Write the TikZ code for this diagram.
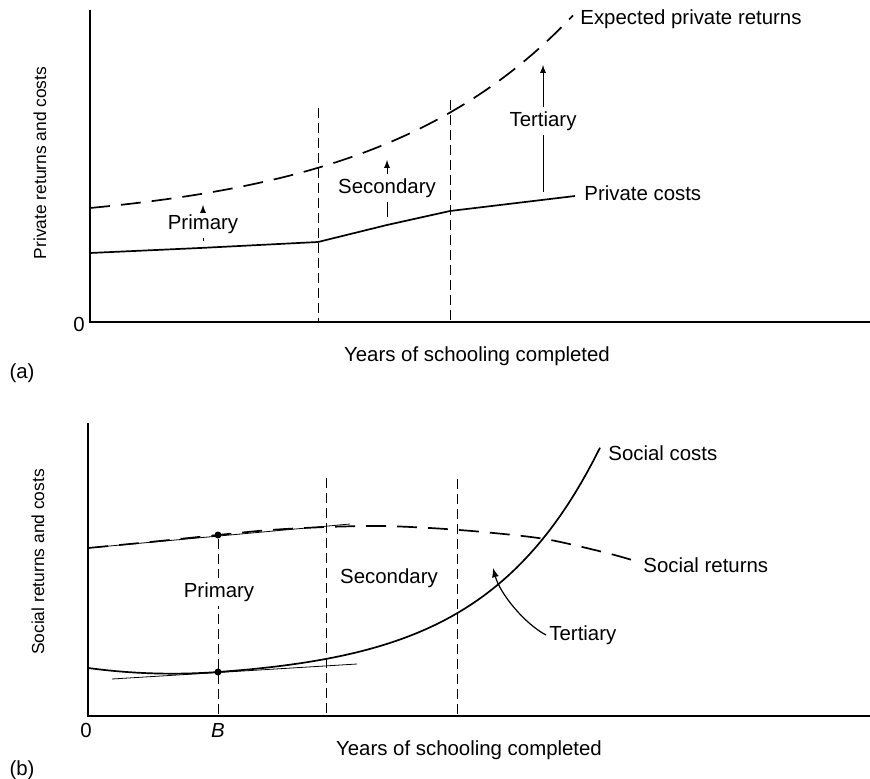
\documentclass[tikz,border=0pt]{standalone}
\usepackage{fontspec}
\setmainfont{Liberation Sans}
\usetikzlibrary{arrows}

\begin{document}
\begin{tikzpicture}[x=0.5pt,y=-0.5pt,
    txt/.style={font=\fontsize{10.2}{12}\selectfont,inner sep=1.5pt},
    ytxt/.style={font=\fontsize{8.7}{10}\selectfont,rotate=90,inner sep=0pt},
    axisline/.style={line width=0.65pt},
    guide/.style={line width=0.5pt,dash pattern=on 5pt off 2.5pt},
    dashcurve/.style={line width=0.85pt,dash pattern=on 10pt off 5.5pt},
    solidcurve/.style={line width=0.85pt},
    thinline/.style={line width=0.4pt},
    gap/.style={txt,fill=white,inner sep=2pt},
    dot/.style={circle,fill=black,inner sep=0pt,minimum size=3.5pt}]
\useasboundingbox (0,0) rectangle (870,779);

%% (a) private returns and costs
\coordinate (Oa) at (90,322);
\draw[axisline] (90,10) -- (Oa) -- (870,322);
\node[txt] (zeroA) at (79,324) {0};
\node[ytxt] (ylabA) at (40,163) {Private returns and costs};
\node[txt] (xlabA) at (477,356) {Years of schooling completed};
\node[txt] (tagA) at (22,373) {(a)};
\foreach \xv/\yt in {318/108, 450/100}
    \draw[guide] (\xv,\yt) -- (\xv,322);
\draw[dashcurve,domain=90:573,samples=60] plot (\x,{208-18.9*(exp((\x-90)/200)-1)});
\draw[solidcurve] (90,253) -- (200,248) -- (318,242) -- (387,225) -- (450,211) -- (575,196);
\node[txt,anchor=west] (erLab) at (577,19) {Expected private returns};
\node[txt,anchor=west] (pcLab) at (581,193) {Private costs};
%% gaps between costs and returns
\foreach \nm/\xa/\yb/\ym/\yt/\tx in {prim/203/241/224/205/Primary, sec/387/217/188/160/Secondary, tert/543/192/121/65/Tertiary}{
    \coordinate (\nm-lo) at (\xa,\yb);
    \coordinate (\nm-hi) at (\xa,\yt);
    \node[gap] (\nm-a) at (\xa,\ym) {\tx};
    \draw[thinline] (\nm-lo) -- (\nm-a.south);
    \draw[thinline,-latex] (\nm-a.north) -- (\nm-hi);
}

%% (b) social returns and costs
\coordinate (Ob) at (88,716);
\coordinate (Bx) at (218,716);
\draw[axisline] (88,423) -- (Ob) -- (870,716);
\node[txt] (zeroB) at (86,730) {0};
\node[txt] (labB) at (218,730) {\textit{B}};
\node[ytxt] (ylabB) at (38,562) {Social returns and costs};
\node[txt] (xlabB) at (469,750) {Years of schooling completed};
\node[txt] (tagB) at (22,770) {(b)};
\foreach \xv/\yt in {326/478, 457/479}
    \draw[guide] (\xv,\yt) -- (\xv,716);
\draw[dashcurve] plot[smooth] coordinates {(88,548) (150,542) (218,535) (270,530) (326,527) (380,526) (430,528) (483,532) (545,539) (603,552) (632,560)};
\draw[solidcurve] plot[domain=88:218,samples=20] (\x,{672-0.073*(\x-218)-0.08*((\x-218)/10)*((\x-218)/10)})
    -- plot[domain=218:600,samples=60] (\x,{672-8.4*(exp((\x-218)/115)-1)});
\draw[thinline] (88,548) -- (350,524);
\draw[thinline] (112,679) -- (357,664);
\node[dot] (dotR) at (218,535) {};
\node[dot] (dotC) at (218,672) {};
\draw[guide] (dotR) -- (Bx);
\node[gap] (primB) at (219,592) {Primary};
\node[txt] (secB) at (389,578) {Secondary};
\node[txt,anchor=west] (scLab) at (605,453) {Social costs};
\node[txt,anchor=west] (srLab) at (640,565) {Social returns};
\node[txt,anchor=west] (tertB) at (546,635) {Tertiary};
\coordinate (tertTip) at (493,568);
\draw[line width=0.6pt,-latex] (tertB.west) .. controls (525,624) and (500,594) .. (tertTip);
\end{tikzpicture}
\end{document}
